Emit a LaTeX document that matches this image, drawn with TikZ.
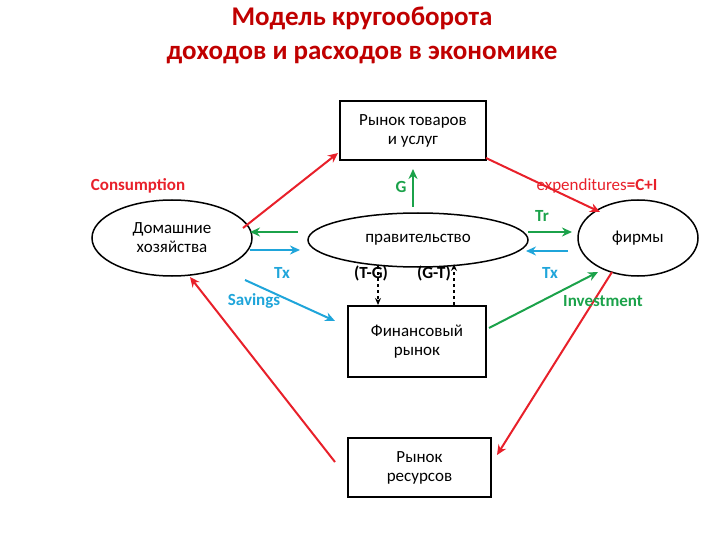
\documentclass[tikz,border=0pt]{standalone}
\usepackage{fontspec}
\setmainfont{Carlito}
\usetikzlibrary{arrows.meta,shapes.geometric}
\definecolor{tred}{HTML}{C00000}
\definecolor{ared}{HTML}{E8202A}
\definecolor{agreen}{HTML}{1BA24A}
\definecolor{ablue}{HTML}{1FA5DA}
\begin{document}
\begin{tikzpicture}[x=1pt,y=-1pt,font=\fontsize{17}{19}\selectfont,
  box/.style={draw,line width=1.5pt,align=center,inner sep=0pt},
  ell/.style={draw,ellipse,line width=1.5pt,align=center,inner sep=0pt},
  arr/.style={line width=2pt,-{Stealth[length=10pt,width=9pt]}},
  dsh/.style={line width=1.3pt,dashed,-{Stealth[length=7pt,width=6pt]}},
  lab/.style={font=\fontsize{17}{19}\selectfont\bfseries}]
\useasboundingbox (0,0) rectangle (720,540);
\node[text=tred,font=\fontsize{27}{34}\selectfont\bfseries,align=center] (title) at (362,35) {Модель кругооборота\\доходов и расходов в экономике};
\node[box,minimum width=146pt,minimum height=59pt] (mkt) at (413,130.5) {Рынок товаров\\и услуг};
\node[ell,minimum width=160pt,minimum height=76pt] (hh) at (172,238) {Домашние\\хозяйства};
\node[ell,minimum width=220pt,minimum height=54pt] (gov) at (418,240) {правительство};
\node[ell,minimum width=120pt,minimum height=76pt] (firm) at (638,238) {фирмы};
\node[box,minimum width=138pt,minimum height=71pt] (fin) at (417,341.5) {Финансовый\\рынок};
\node[box,minimum width=143pt,minimum height=59pt] (res) at (419.5,467.5) {Рынок\\ресурсов};
% red flows
\coordinate (a1) at (243,228); \coordinate (a2) at (338,153);
\draw[arr,ared] (a1) -- (a2);
\coordinate (b1) at (486,158); \coordinate (b2) at (600,212);
\draw[arr,ared] (b1) -- (b2);
\coordinate (c1) at (335,462); \coordinate (c2) at (190,277);
\draw[arr,ared] (c1) -- (c2);
\coordinate (d1) at (612,272); \coordinate (d2) at (497,455);
\draw[arr,ared] (d1) -- (d2);
% green
\coordinate (g1) at (413,207); \coordinate (g2) at (413,169);
\draw[arr,agreen] (g1) -- (g2);
\coordinate (h1) at (298,232); \coordinate (h2) at (250,232);
\draw[arr,agreen] (h1) -- (h2);
\coordinate (t1) at (528,232); \coordinate (t2) at (572,232);
\draw[arr,agreen] (t1) -- (t2);
\coordinate (i1) at (489,328); \coordinate (i2) at (598,272);
\draw[arr,agreen] (i1) -- (i2);
% blue
\coordinate (x1) at (250,250); \coordinate (x2) at (300,250);
\draw[arr,ablue] (x1) -- (x2);
\coordinate (y1) at (568,251); \coordinate (y2) at (526,251);
\draw[arr,ablue] (y1) -- (y2);
\coordinate (s1) at (245,280); \coordinate (s2) at (335,321);
\draw[arr,ablue] (s1) -- (s2);
% dashed
\coordinate (k1) at (378,266); \coordinate (k2) at (378,305);
\draw[dsh] (k1) -- (k2);
\coordinate (m1) at (454,305); \coordinate (m2) at (454,264);
\draw[dsh] (m1) -- (m2);
% labels
\node[lab,text=ared] (lc) at (138,186) {Consumption};
\node[lab,text=agreen] (lg) at (401,187) {G};
\node[text=ared] (le) at (597,186) {expenditures\textbf{=C+I}};
\node[lab,text=agreen] (ltr) at (542,216) {Tr};
\node[lab,text=ablue] (ltx1) at (282,273) {Tx};
\node[lab,text=ablue] (ls) at (254,301) {Savings};
\node[lab] (ltg) at (371,273) {(T-G)};
\node[lab] (lgt) at (434,273) {(G-T)};
\node[lab,text=ablue] (ltx2) at (550,273) {Tx};
\node[lab,text=agreen] (li) at (603,301) {Investment};
\end{tikzpicture}
\end{document}
